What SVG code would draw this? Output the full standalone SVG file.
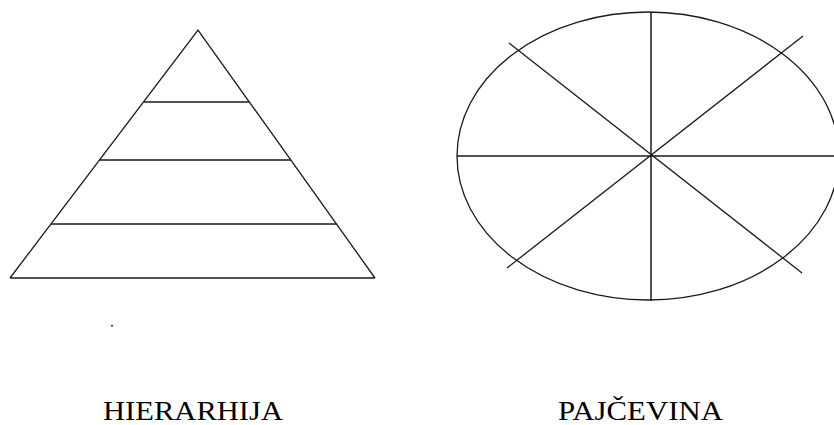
<svg xmlns="http://www.w3.org/2000/svg" width="834" height="425" viewBox="0 0 834 425">
<style>
.ln{stroke:#1a1a1a;stroke-width:1.5;fill:none}
.sl{stroke:#1a1a1a;stroke-width:1.3;fill:none}
.lbl{font-family:"Liberation Serif","Times New Roman",serif;font-size:27px;fill:#000}
</style>
<rect width="834" height="425" fill="#fff"/>
<g id="hierarhija">
<polyline class="sl" points="10,278 198,30 375,278"/>
<line class="ln" x1="10" y1="278" x2="375" y2="278"/>
<line class="ln" x1="144" y1="102" x2="249" y2="102"/>
<line class="ln" x1="99" y1="160" x2="291" y2="160"/>
<line class="ln" x1="51" y1="224" x2="337" y2="224"/>
<rect x="111" y="325" width="2" height="1.5" fill="#333"/>
</g>
<g id="pajcevina">
<ellipse class="sl" cx="648" cy="156" rx="191" ry="144"/>
<line class="ln" x1="651" y1="12" x2="651" y2="301"/>
<line class="ln" x1="457" y1="156" x2="834" y2="156"/>
<line class="sl" x1="507" y1="268" x2="803" y2="36"/>
<line class="sl" x1="509" y1="43" x2="802" y2="273"/>
</g>
<text class="lbl" x="103" y="420" textLength="180" lengthAdjust="spacingAndGlyphs">HIERARHIJA</text>
<text class="lbl" x="558" y="420" textLength="165" lengthAdjust="spacingAndGlyphs">PAJČEVINA</text>
</svg>
